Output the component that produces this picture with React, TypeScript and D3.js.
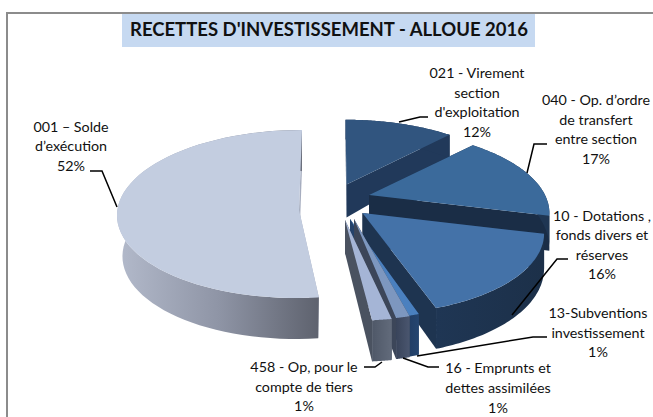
import React from "react";
import * as d3 from "d3";

const titleText = "RECETTES D'INVESTISSEMENT - ALLOUE 2016";
const sliceNames = ["021", "040", "10", "13", "16", "458", "001"];
const sliceValues = [12, 17, 16, 1, 1, 1, 52];
const labelLines = [
  ["021 - Virement", "section", "d'exploitation", "12%"],
  ["040 - Op. d’ordre", "de transfert", "entre section", "17%"],
  ["10 - Dotations ,", "fonds divers et", "réserves", "16%"],
  ["13-Subventions", "investissement", "1%"],
  ["16 - Emprunts et", "dettes assimilées", "1%"],
  ["458 - Op, pour le", "compte de tiers", "1%"],
  ["001 – Solde", "d’exécution", "52%"],
];

type Geo = { cx: number; cy: number; ax?: number; off?: number; rx: number; ry: number; k: number; skew: number; dBase: number; dBack: number; dFront: number; shrink: number; top: string; cut: string; wall: string };
const base = { rx: 176, ry: 79, k: 0.22, dBase: 33, dBack: 0.4, dFront: 0.25, shrink: 1 };
const geometry: Record<string, Geo> = {
  "021": { ...base, cx: 346.5, cy: 184.5, skew: -1, top: "#31557f", cut: "#21395a", wall: "#21395a" },
  "040": { ...base, cx: 369, cy: 195, skew: 0, top: "#3b6a9b", cut: "#1a2d46", wall: "#1f3653" },
  "10": { ...base, cx: 362.5, cy: 213, skew: -5, top: "#4472a8", cut: "#1e3450", wall: "url(#w10)" },
  "13": { ...base, cx: 350, cy: 219, skew: 0, top: "#4a80bf", cut: "#24426b", wall: "url(#w13)" },
  "16": { ...base, cx: 354, cy: 219, skew: 0, top: "#7d97bf", cut: "#3c4659", wall: "url(#w16)" },
  "458": { ...base, cx: 332, ax: 345, rx: 250, cy: 220, skew: 0, top: "#a5b5d6", cut: "#4a5260", wall: "url(#w458)" },
  "001": { cx: 299, cy: 210, off: 4, rx: 182, ry: 84, k: 0, skew: 3, dBase: 41, dBack: 0, dFront: 0, shrink: 0.97, top: "#c3cde0", cut: "#a6adbf", wall: "url(#w001)" },
};

const labelPlace: Record<string, { x: number; y: number[] }> = {
  "021": { x: 477, y: [78, 98, 117, 137] },
  "040": { x: 596, y: [105, 125, 144, 164] },
  "10": { x: 602, y: [221, 240, 260, 279] },
  "13": { x: 598, y: [318, 338, 357] },
  "16": { x: 498, y: [373, 393, 413] },
  "458": { x: 304, y: [372, 392, 411] },
  "001": { x: 71, y: [132, 151, 171] },
};
const leaders: Record<string, [number, number][]> = {
  "021": [[428, 117], [420, 117], [399, 122]],
  "040": [[547, 144], [534, 144], [527, 173]],
  "10": [[568, 259], [557, 259], [512, 315]],
  "13": [[547, 337], [533, 337], [417, 356]],
  "16": [[439, 367], [428, 367], [403, 358]],
  "458": [[364, 367], [375, 367], [382, 362]],
  "001": [[90, 171], [102, 171], [117, 207]],
};
const drawOrder = ["021", "040", "10", "13", "16", "458", "001"];

const FONT = "Lato, Carlito, sans-serif";

function project(g: Geo, a: number) {
  const X = Math.sin(a), Y = Math.cos(a);
  const w = 1 / (1 + g.k * Y);
  const x = g.cx + g.rx * X * w + g.skew * Y;
  const y = g.cy + (g.off ?? 0) - g.ry * Y * w;
  const d = g.dBase * (1 - (Y > 0 ? g.dBack : g.dFront) * Y);
  const low: [number, number] = [g.cx + (x - g.cx) * g.shrink, y + d];
  return { top: [x, y] as [number, number], low };
}

export default function App() {
  const arcs = d3.pie<number>().sort(null)(sliceValues);
  const line = d3.line();
  const slices = drawOrder.map((name) => {
    const arc = arcs[sliceNames.indexOf(name)];
    const g = geometry[name];
    const steps = d3.range(0, 61).map((i) => arc.startAngle + ((arc.endAngle - arc.startAngle) * i) / 60);
    const pts = steps.map((a) => project(g, a));
    const ax = g.ax ?? g.cx;
    const apex: [number, number] = [ax, g.cy];
    const apexLow: [number, number] = [ax, g.cy + g.dBase];
    const first = pts[0], last = pts[pts.length - 1];
    const close = (p: [number, number][]) => line(p) + "Z";
    return {
      name, g,
      cutA: close([apex, first.top, first.low, apexLow]),
      cutB: close([apex, last.top, last.low, apexLow]),
      wall: close([...pts.map((p) => p.top), ...pts.map((p) => p.low).reverse()]),
      top: close([apex, ...pts.map((p) => p.top)]),
    };
  });
  return (
    <svg width={653} height={417} style={{ position: "absolute", left: 0, top: 0, background: "#fff" }}>
      <defs>
        <linearGradient id="w001" gradientUnits="userSpaceOnUse" x1={117} x2={319} y1={0} y2={0}>
          <stop offset="0" stopColor="#b3bacb" />
          <stop offset="0.5" stopColor="#8f95a6" />
          <stop offset="1" stopColor="#5e626e" />
        </linearGradient>
        <linearGradient id="w10" x1="0" x2="1" y1="0" y2="0">
          <stop offset="0" stopColor="#1f3654" />
          <stop offset="1" stopColor="#1c3049" />
        </linearGradient>
        <linearGradient id="w13" x1="0" x2="1" y1="0" y2="0">
          <stop offset="0" stopColor="#213c62" />
          <stop offset="1" stopColor="#254570" />
        </linearGradient>
        <linearGradient id="w16" x1="0" x2="1" y1="0" y2="0">
          <stop offset="0" stopColor="#39445a" />
          <stop offset="1" stopColor="#4a566f" />
        </linearGradient>
        <linearGradient id="w458" x1="0" x2="1" y1="0" y2="0">
          <stop offset="0" stopColor="#4f5868" />
          <stop offset="1" stopColor="#626b7b" />
        </linearGradient>
      </defs>
      <path d="M7 417V13H653" fill="none" stroke="#8c8c8c" strokeWidth={2} />
      <rect x={122} y={14} width={413} height={33} fill="#c6d9f1" />
      <text x={329} y={36} textAnchor="middle" fontFamily={FONT} fontWeight={700} fontSize={18.5} fill="#111">{titleText}</text>
      {slices.map((s) => (
        <g key={s.name}>
          <path d={s.cutA} fill={s.g.cut} />
          <path d={s.cutB} fill={s.g.cut} />
          <path d={s.wall} fill={s.g.wall} />
          <path d={s.top} fill={s.g.top} />
        </g>
      ))}
      {sliceNames.map((n) => (
        <path key={n} d={line(leaders[n]) ?? ""} fill="none" stroke="#000" strokeWidth={1.5} />
      ))}
      {sliceNames.map((n, i) => (
        <text key={n} textAnchor="middle" fontFamily={FONT} fontSize={14.3} fill="#111">
          {labelLines[i].map((t, j) => (
            <tspan key={j} x={labelPlace[n].x} y={labelPlace[n].y[j]}>{t}</tspan>
          ))}
        </text>
      ))}
    </svg>
  );
}
